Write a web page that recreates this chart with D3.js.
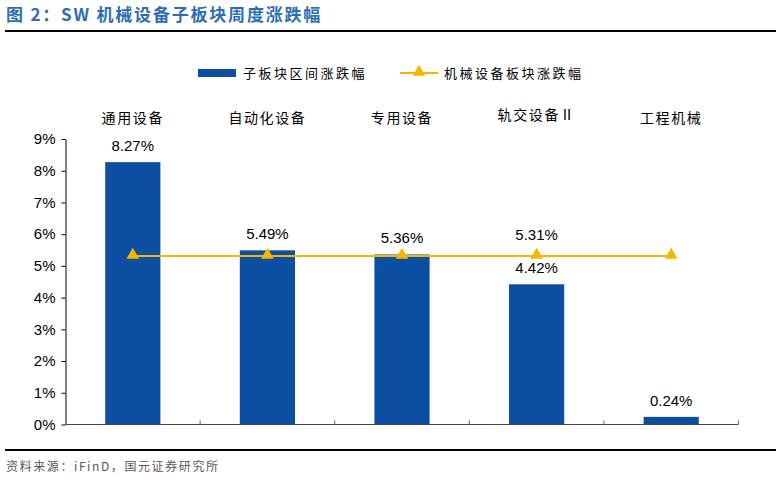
<!DOCTYPE html>
<html>
<head>
<meta charset="utf-8">
<script src="https://cdn.jsdelivr.net/npm/d3@7"></script>
<style>
  body { margin: 0; background: #fff; }
  svg { display: block; }
  text { font-family: Arial, "Liberation Sans", "Noto Sans CJK SC", sans-serif; }
  .cjk { font-family: "Noto Sans CJK SC", sans-serif; }
</style>
</head>
<body>
<svg id="vis_svg" width="776" height="480"></svg>
<script>
// data
let categories = ['通用设备', '自动化设备', '专用设备', '轨交设备Ⅱ', '工程机械'];
let barValues = [8.27, 5.49, 5.36, 4.42, 0.24];
let lineValue = 5.31;
let lineValues = categories.map(() => lineValue);
let yTicks = [0, 1, 2, 3, 4, 5, 6, 7, 8, 9];
let seriesNames = ['子板块区间涨跌幅', '机械设备板块涨跌幅'];

let barColor = '#0b4ea2';
let lineColor = '#f5b800';

let svg = d3.select('svg#vis_svg');

// title + rules
svg.append('text')
    .attr('x', 6).attr('y', 21)
    .attr('class', 'cjk')
    .style('font-size', '17px').style('font-weight', 'bold')
    .style('letter-spacing', '1.8px')
    .style('fill', '#2e6db4')
    .text('图 2：SW 机械设备子板块周度涨跌幅');
svg.append('line')
    .attr('x1', 5).attr('x2', 776).attr('y1', 31).attr('y2', 31)
    .style('stroke', '#000').style('stroke-width', 2);
svg.append('line')
    .attr('x1', 5).attr('x2', 776).attr('y1', 450).attr('y2', 450)
    .style('stroke', '#000').style('stroke-width', 2);
svg.append('text')
    .attr('x', 6).attr('y', 471)
    .attr('class', 'cjk')
    .style('font-size', '12px').style('fill', '#595959')
    .style('letter-spacing', '1.6px')
    .text('资料来源：iFinD，国元证券研究所');

// scales
let x = d3.scaleBand().domain(categories).range([65.5, 738.5]).paddingInner(0.59).paddingOuter(0.295);
let y = d3.scaleLinear().domain([0, 9]).range([424.5, 139]);
let xOuter = d3.scaleBand().domain(categories).range([65.5, 738.5]);

// y axis
let yAxis = svg.append('g')
    .attr('transform', 'translate(65.5,0)')
    .call(d3.axisLeft(y).tickValues(yTicks).tickFormat(d => d + '%').tickSize(4).tickSizeOuter(0));
yAxis.select('.domain').style('stroke', '#000');
yAxis.selectAll('.tick line').style('stroke', '#000');
yAxis.selectAll('.tick text')
    .attr('x', -10)
    .style('font-size', '15px').style('fill', '#000')
    .style('font-family', 'Arial, "Liberation Sans", sans-serif');

// bars
svg.append('g').selectAll('rect')
    .data(barValues)
    .enter()
    .append('rect')
    .attr('x', (d, i) => x(categories[i]))
    .attr('width', x.bandwidth())
    .attr('y', d => y(d))
    .attr('height', d => y(0) - y(d))
    .style('fill', barColor);

// x axis with ticks at category boundaries
svg.append('line')
    .attr('x1', 65.5).attr('x2', 738.5).attr('y1', 424.5).attr('y2', 424.5)
    .style('stroke', '#444').style('stroke-width', 1.2);
svg.append('g').selectAll('line')
    .data(categories)
    .enter()
    .append('line')
    .attr('x1', d => xOuter(d) + xOuter.bandwidth())
    .attr('x2', d => xOuter(d) + xOuter.bandwidth())
    .attr('y1', 424.5).attr('y2', 420.5)
    .style('stroke', '#666');

// category labels at top
svg.append('g').selectAll('text')
    .data(categories)
    .enter()
    .append('text')
    .attr('class', 'cjk')
    .attr('x', d => x(d) + x.bandwidth() / 2)
    .attr('y', (d, i) => i === 3 ? 120 : 123)
    .attr('text-anchor', 'middle')
    .style('font-size', '14px').style('fill', '#000')
    .style('letter-spacing', '1.6px')
    .text(d => d);

// line series
let lineGen = d3.line()
    .x((d, i) => x(categories[i]) + x.bandwidth() / 2)
    .y(d => y(d));
svg.append('path')
    .datum(lineValues)
    .attr('d', lineGen)
    .style('fill', 'none').style('stroke', lineColor).style('stroke-width', 2);
let tri = d3.symbol().type(d3.symbolTriangle).size(70);
svg.append('g').selectAll('path')
    .data(lineValues)
    .enter()
    .append('path')
    .attr('d', tri)
    .attr('transform', (d, i) => 'translate(' + (x(categories[i]) + x.bandwidth() / 2) + ',' + (y(d) - 1) + ')')
    .style('fill', lineColor);

// bar value labels
svg.append('g').selectAll('text')
    .data(barValues)
    .enter()
    .append('text')
    .attr('x', (d, i) => x(categories[i]) + x.bandwidth() / 2)
    .attr('y', d => y(d) - 11)
    .attr('text-anchor', 'middle')
    .style('font-size', '15px').style('fill', '#000')
    .text(d => d.toFixed(2) + '%');

// line value label (only shown on one point)
svg.append('text')
    .attr('x', x(categories[3]) + x.bandwidth() / 2)
    .attr('y', y(lineValue) - 16)
    .attr('text-anchor', 'middle')
    .style('font-size', '15px').style('fill', '#000')
    .text(lineValue.toFixed(2) + '%');

// legend
let legend = svg.append('g');
legend.append('rect')
    .attr('x', 198).attr('y', 69).attr('width', 38).attr('height', 8)
    .style('fill', barColor);
legend.append('text')
    .attr('class', 'cjk')
    .attr('x', 243).attr('y', 78)
    .style('font-size', '13px').style('fill', '#000')
    .style('letter-spacing', '2.5px')
    .text(seriesNames[0]);
legend.append('line')
    .attr('x1', 400).attr('x2', 438).attr('y1', 73).attr('y2', 73)
    .style('stroke', lineColor).style('stroke-width', 2);
legend.append('path')
    .attr('d', tri)
    .attr('transform', 'translate(419,72)')
    .style('fill', lineColor);
legend.append('text')
    .attr('class', 'cjk')
    .attr('x', 444).attr('y', 78)
    .style('font-size', '13px').style('fill', '#000')
    .style('letter-spacing', '2.5px')
    .text(seriesNames[1]);
</script>
</body>
</html>
